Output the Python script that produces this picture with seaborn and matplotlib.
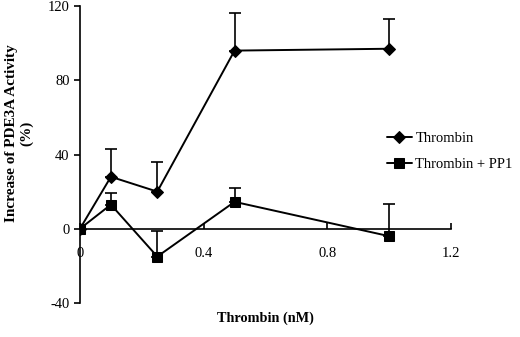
import seaborn as sns
import pandas as pd
import matplotlib.pyplot as plt
import numpy as np

sns.set_theme(style='white')
plt.rcParams['font.family'] = ['Liberation Serif', 'DejaVu Serif']
plt.rcParams['text.color'] = 'black'

conc = [0, 0.1, 0.25, 0.5, 1.0]
thrombin = [0, 28, 20, 96, 97]
thrombin_err = [0, 15, 16, 20, 16]
pp1 = [0, 13, -15, 14.5, -4]
pp1_err = [0, 6.5, 14, 7.5, 17.5]

labels = ['Thrombin', 'Thrombin + PP1']

df = pd.DataFrame({'conc': conc * 2,
                   'value': thrombin + pp1,
                   'series': [labels[0]] * len(conc) + [labels[1]] * len(conc)})

fig = plt.figure(figsize=(5.2, 3.37), dpi=100)
ax = fig.add_axes([0.1538, 0.101, 0.7135, 0.881])

# one-sided error bars first so markers sit on top
ax.errorbar(conc, thrombin, yerr=[np.zeros(len(conc)), thrombin_err], fmt='none',
            ecolor='black', elinewidth=1.2, capsize=4, capthick=1.2, zorder=2)
ax.errorbar(conc, pp1, yerr=[np.zeros(len(conc)), pp1_err], fmt='none',
            ecolor='black', elinewidth=1.2, capsize=4, capthick=1.2, zorder=2)

sns.lineplot(data=df, x='conc', y='value', hue='series', style='series',
             markers={labels[0]: 'D', labels[1]: 's'}, dashes=False,
             palette={labels[0]: 'black', labels[1]: 'black'},
             markersize=6.5, markeredgecolor='black', linewidth=1.4, ax=ax, zorder=3)

ax.set_xlim(0, 1.2)
ax.set_ylim(-40, 120)
ax.set_xticks([0, 0.4, 0.8, 1.2])
ax.set_xticklabels(['0', '0.4', '0.8', '1.2'])
ax.set_yticks([-40, 0, 40, 80, 120])
ax.set_yticklabels(['-40', '0', '40', '80', '120'])

ax.spines['top'].set_visible(False)
ax.spines['right'].set_visible(False)
ax.spines['bottom'].set_position(('data', 0))
ax.spines['left'].set_color('black')
ax.spines['bottom'].set_color('black')
ax.spines['left'].set_linewidth(1.2)
ax.spines['bottom'].set_linewidth(1.2)

ax.tick_params(axis='y', direction='out', length=4, width=1.2, colors='black', labelsize=10.5, left=True)
ax.tick_params(axis='x', direction='in', length=4, width=1.2, colors='black', labelsize=10.5, bottom=True, pad=13)

ax.set_xlabel('')
ax.set_ylabel('Increase of PDE3A Activity\n(%)', fontsize=11, weight='bold', color='black')
ax.yaxis.set_label_coords(-0.125, 0.572)
fig.text(0.51, 0.056, 'Thrombin (nM)', ha='center', va='center', fontsize=10.3, weight='bold', color='black')

ax.legend(loc='upper left', bbox_to_anchor=(0.8, 0.61), frameon=False, fontsize=10.5,
          handlelength=1.7, handletextpad=0.25, labelspacing=0.85, borderpad=0.2)

fig.savefig('out.png', dpi=100)
